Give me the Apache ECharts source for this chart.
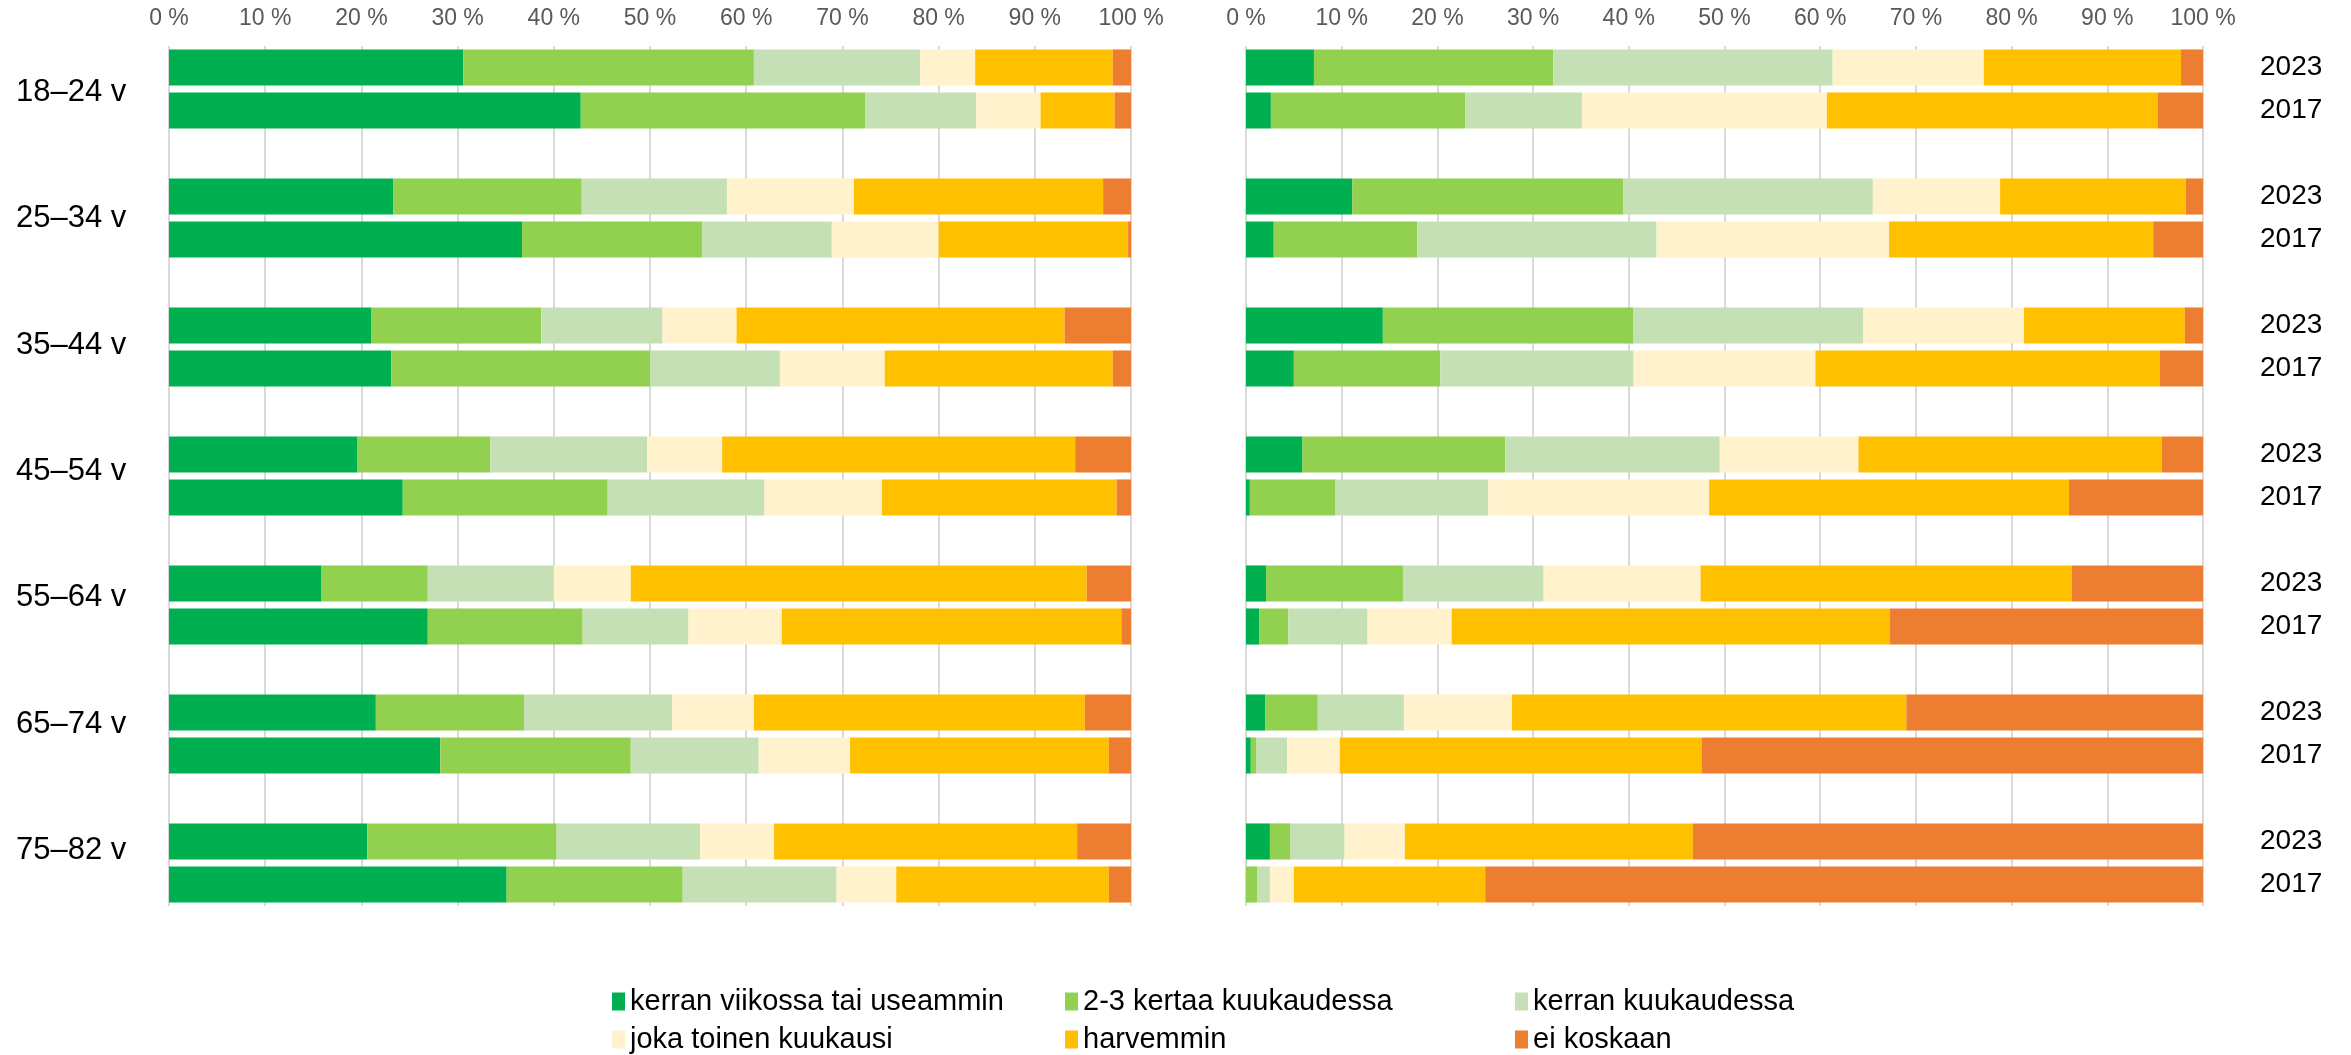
<!DOCTYPE html>
<html>
<head>
<meta charset="utf-8">
<script src="https://cdn.jsdelivr.net/npm/echarts@6/dist/echarts.min.js"></script>
<style>
html,body{margin:0;padding:0;background:#fff;}
#chart{width:2351px;height:1055px;}
</style>
</head>
<body>
<div id="chart"></div>
<script>
const ageGroups = ['18–24 v','25–34 v','35–44 v','45–54 v','55–64 v','65–74 v','75–82 v'];
const years = ['2023','2017'];
const categories = ['kerran viikossa tai useammin','2-3 kertaa kuukaudessa','kerran kuukaudessa','joka toinen kuukausi','harvemmin','ei koskaan'];
const colors = ['#00B050','#92D050','#C5E0B4','#FFF2CC','#FFC000','#ED7D31'];
const xTicks = [0,10,20,30,40,50,60,70,80,90,100];

// Left panel, 2023
const leftWeekly2023   = [30.6, 23.3, 21.0, 19.6, 15.8, 21.5, 20.6];
const leftTwoThree2023 = [30.2, 19.6, 17.7, 13.8, 11.1, 15.4, 19.7];
const leftMonthly2023  = [17.3, 15.1, 12.6, 16.3, 13.1, 15.4, 14.9];
const leftBimonth2023  = [5.7, 13.2, 7.7, 7.8, 8.0, 8.5, 7.7];
const leftRarely2023   = [14.3, 25.9, 34.1, 36.7, 47.4, 34.4, 31.5];
const leftNever2023    = [1.9, 2.9, 6.9, 5.8, 4.6, 4.8, 5.6];
// Left panel, 2017
const leftWeekly2017   = [42.8, 36.7, 23.1, 24.3, 26.9, 28.2, 35.1];
const leftTwoThree2017 = [29.6, 18.7, 26.9, 21.3, 16.1, 19.8, 18.3];
const leftMonthly2017  = [11.5, 13.5, 13.5, 16.3, 11.0, 13.3, 16.0];
const leftBimonth2017  = [6.7, 11.1, 10.9, 12.2, 9.7, 9.5, 6.2];
const leftRarely2017   = [7.7, 19.7, 23.7, 24.4, 35.3, 26.9, 22.1];
const leftNever2017    = [1.7, 0.3, 1.9, 1.5, 1.0, 2.3, 2.3];
// Right panel, 2023
const rightWeekly2023   = [7.1, 11.1, 14.3, 5.9, 2.1, 2.0, 2.5];
const rightTwoThree2023 = [25.0, 28.3, 26.2, 21.2, 14.3, 5.5, 2.1];
const rightMonthly2023  = [29.2, 26.1, 24.0, 22.4, 14.7, 9.0, 5.7];
const rightBimonth2023  = [15.8, 13.3, 16.8, 14.5, 16.4, 11.3, 6.3];
const rightRarely2023   = [20.6, 19.4, 16.8, 31.7, 38.8, 41.2, 30.1];
const rightNever2023    = [2.3, 1.8, 1.9, 4.3, 13.7, 31.0, 53.3];
// Right panel, 2017
const rightWeekly2017   = [2.6, 2.9, 5.0, 0.4, 1.4, 0.5, 0];
const rightTwoThree2017 = [20.3, 15.0, 15.3, 8.9, 3.0, 0.6, 1.2];
const rightMonthly2017  = [12.2, 25.0, 20.2, 16.0, 8.3, 3.2, 1.3];
const rightBimonth2017  = [25.6, 24.3, 19.0, 23.1, 8.8, 5.5, 2.5];
const rightRarely2017   = [34.6, 27.6, 36.0, 37.6, 45.8, 37.8, 20.0];
const rightNever2017    = [4.7, 5.2, 4.5, 14.0, 32.7, 52.4, 75.0];

const left2023 = [leftWeekly2023, leftTwoThree2023, leftMonthly2023, leftBimonth2023, leftRarely2023, leftNever2023];
const left2017 = [leftWeekly2017, leftTwoThree2017, leftMonthly2017, leftBimonth2017, leftRarely2017, leftNever2017];
const right2023 = [rightWeekly2023, rightTwoThree2023, rightMonthly2023, rightBimonth2023, rightRarely2023, rightNever2023];
const right2017 = [rightWeekly2017, rightTwoThree2017, rightMonthly2017, rightBimonth2017, rightRarely2017, rightNever2017];

// Slots: 2023, 2017, blank for each group (no blank after the last)
const slotLabels = [];
ageGroups.forEach((g, i) => {
  slotLabels.push(years[0], years[1]);
  if (i < ageGroups.length - 1) slotLabels.push('');
});
function slotData(a2023, a2017) {
  const out = [];
  ageGroups.forEach((g, i) => {
    out.push(a2023[i], a2017[i]);
    if (i < ageGroups.length - 1) out.push(null);
  });
  return out;
}

const FONT = '"Liberation Sans", Arial, sans-serif';
const gridTop = 46, gridH = 860;

const series = [];
categories.forEach((name, k) => {
  series.push({
    name: name, type: 'bar', stack: 'L', xAxisIndex: 0, yAxisIndex: 0,
    barCategoryGap: '16%', itemStyle: { color: colors[k] },
    data: slotData(left2023[k], left2017[k])
  });
});
categories.forEach((name, k) => {
  series.push({
    name: name, type: 'bar', stack: 'R', xAxisIndex: 1, yAxisIndex: 1,
    barCategoryGap: '16%', itemStyle: { color: colors[k] },
    data: slotData(right2023[k], right2017[k])
  });
});
// dummy invisible series for the age-group label grid
series.push({ type: 'bar', xAxisIndex: 2, yAxisIndex: 2, data: ageGroups.map(() => null), silent: true });

function xAx(gi) {
  return {
    type: 'value', gridIndex: gi, position: 'top', min: 0, max: 100, interval: 10,
    axisLine: { show: false }, axisTick: { show: false },
    splitLine: { show: true, lineStyle: { color: '#d9d9d9', width: 2 } },
    axisLabel: { color: '#595959', fontSize: 23, fontFamily: FONT, margin: 16,
      formatter: v => xTicks.indexOf(v) >= 0 ? v + '\u00a0%' : '' }
  };
}

// legend: 3 columns x 2 rows
const legendPos = [
  { left: 612, top: 987 }, { left: 1065, top: 987 }, { left: 1515, top: 987 },
  { left: 612, top: 1025 }, { left: 1065, top: 1025 }, { left: 1515, top: 1025 }
];
const legendOrder = [0, 1, 2, 3, 4, 5];

const option = {
  backgroundColor: '#ffffff',
  animation: false,
  grid: [
    { left: 169, width: 962, top: gridTop, height: gridH },
    { left: 1246, width: 957, top: gridTop, height: gridH },
    { left: 169, width: 10, top: 29, height: 885 }
  ],
  xAxis: [xAx(0), xAx(1), { type: 'value', gridIndex: 2, show: false }],
  yAxis: [
    { type: 'category', gridIndex: 0, inverse: true, data: slotLabels,
      axisLine: { show: false }, axisTick: { show: false }, axisLabel: { show: false } },
    { type: 'category', gridIndex: 1, inverse: true, data: slotLabels, position: 'right',
      axisLine: { show: false }, axisTick: { show: false },
      axisLabel: { show: true, interval: 0, color: '#000', fontSize: 28, fontFamily: FONT, margin: 57, align: 'left' } },
    { type: 'category', gridIndex: 2, inverse: true, data: ageGroups,
      axisLine: { show: false }, axisTick: { show: false },
      axisLabel: { color: '#000', fontSize: 31, fontFamily: FONT, align: 'left', margin: 153 } }
  ],
  legend: legendOrder.map((k, i) => ({
    left: legendPos[i].left, top: legendPos[i].top, data: [categories[k]],
    itemWidth: 13, itemHeight: 18, icon: 'rect', padding: 0,
    textStyle: { color: '#000', fontSize: 29, fontFamily: FONT },
    selectedMode: false
  })),
  series: series
};

const chart = echarts.init(document.getElementById('chart'), null, { renderer: 'canvas' });
chart.setOption(option);
</script>
</body>
</html>
